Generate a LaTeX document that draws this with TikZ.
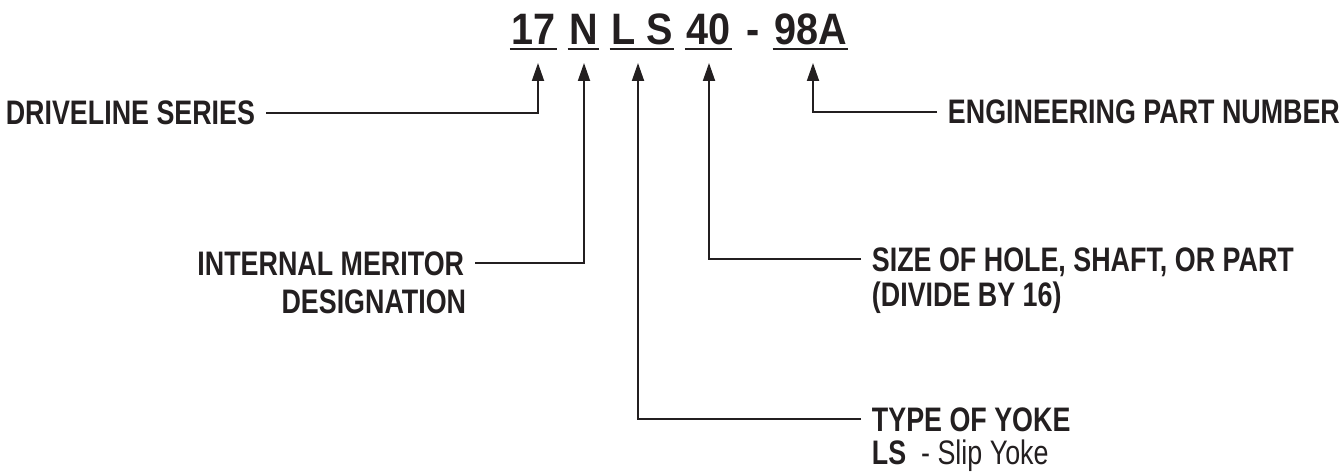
\documentclass[tikz,border=0pt]{standalone}
\usepackage{fontspec}
\setmainfont{Liberation Sans}[FakeStretch=0.79]
\newfontfamily\titlefont{Liberation Sans}[FakeStretch=0.9]
\usetikzlibrary{arrows.meta}
\definecolor{ink}{HTML}{231F20}

\begin{document}
\begin{tikzpicture}[x=0.75pt, y=-0.75pt,
    desc/.style ={inner xsep=8pt, inner ysep=0pt, text depth=0pt, text=ink,
                  font=\fontsize{25.5}{30}\selectfont\bfseries},
    piece/.style ={anchor=base, inner xsep=1pt, inner ysep=3pt, text depth=0pt, text=ink,
                  font=\titlefont\fontsize{33}{38}\selectfont\bfseries},
    uline/.style ={draw=ink, line width=1.4pt},
    lead/.style ={draw=ink, line width=1.4pt, -{Triangle[length=13.5pt, width=9pt]}}]
   \useasboundingbox (0,0) rectangle (1341,474);

   % part number
   \node[piece] (n17)   at (533.5,45) {17};
   \node[piece] (nN)    at (583.5,45) {N};
   \node[piece] (nLS)   at (642,45)   {L S};
   \node[piece] (n40)   at (708.5,45) {40};
   \node[piece] (nDash) at (753,45)   {-};
   \node[piece] (n98A)  at (810.5,45) {98A};

   \draw[uline] (n17.south west) -- (n17.south east);
   \draw[uline] (nN.south west) -- (nN.south east);
   \draw[uline] (nLS.south west) -- (nLS.south east);
   \draw[uline] (n40.south west) -- (n40.south east);
   \draw[uline] (n98A.south west) -- (n98A.south east);

   % arrow tips
   \coordinate (t17)  at (538,63);
   \coordinate (tN)   at (584,63);
   \coordinate (tLS)  at (638,63);
   \coordinate (t40)  at (709,63);
   \coordinate (t98A) at (813,63);

   % descriptions
   \node[desc, anchor=base east] (series)  at (266,125) {DRIVELINE SERIES};
   \node[desc, anchor=base east] (meritor) at (475,275) {INTERNAL MERITOR};
   \node[desc, anchor=base east] (desig)   at (477,313) {DESIGNATION};
   \node[desc, anchor=base west] (size)    at (861,271) {SIZE OF HOLE, SHAFT, OR PART};
   \node[desc, anchor=base west] (divide)  at (861,306) {(DIVIDE BY 16)};
   \node[desc, anchor=base west] (yoke)    at (861,431) {TYPE OF YOKE};
   \node[desc, anchor=base west] (slip)    at (861,464) {LS\ \ \mdseries - Slip Yoke};
   \node[desc, anchor=base west] (engnum)  at (937,124) {ENGINEERING PART NUMBER};

   \draw[lead] (series.east) -| (t17);
   \draw[lead] (meritor.east) -| (tN);
   \draw[lead] (yoke.west) -| (tLS);
   \draw[lead] (size.west) -| (t40);
   \draw[lead] (engnum.west) -| (t98A);
\end{tikzpicture}
\end{document}
